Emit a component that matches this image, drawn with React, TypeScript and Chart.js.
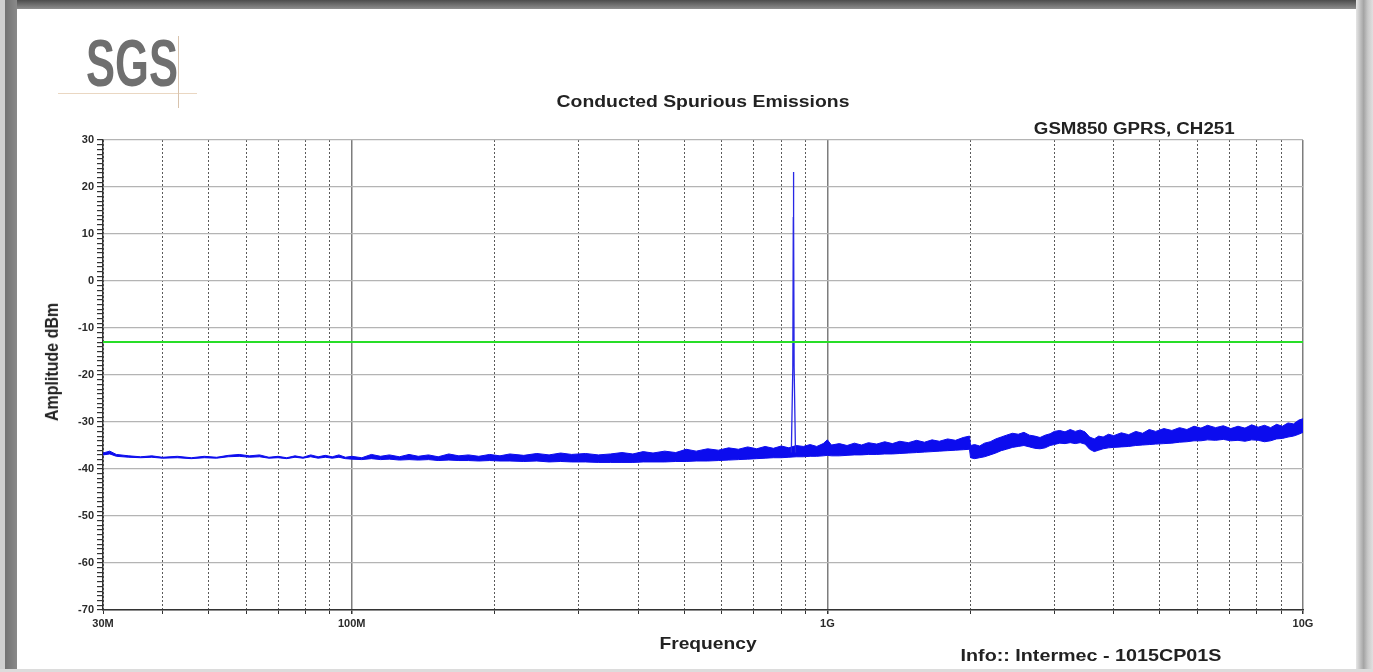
import React, { useEffect, useRef } from 'react';
import { Chart, registerables } from 'chart.js';

Chart.register(...registerables);

// Frequencies in MHz
const freqMHz = [
  30, 31, 32, 34, 36, 38, 40, 43, 46, 49, 52, 55, 58, 61, 64, 67, 70, 73, 76, 79, 82, 85, 88, 91, 94, 97,
  100, 105, 110, 115, 120, 126, 132, 138, 145, 152, 160, 168, 176, 185, 195, 205, 215, 230, 245, 260, 275, 290,
  310, 330, 350, 370, 390, 410, 430, 455, 480, 505, 530, 560, 590, 620, 650, 680, 710, 740, 770, 800, 830,
  860, 890, 920, 950, 980, 1000, 1020, 1060, 1100, 1140, 1180, 1220, 1270, 1320, 1370, 1420, 1480, 1540,
  1600, 1660, 1720, 1790, 1860, 1930, 1990, 2000, 2040, 2090, 2140, 2200, 2260, 2320, 2380, 2450, 2520,
  2590, 2660, 2730, 2800, 2870, 2940, 3000, 3080, 3160, 3240, 3320, 3400, 3480, 3560, 3640, 3720, 3800,
  3900, 4000, 4150, 4300, 4450, 4600, 4750, 4900, 5100, 5300, 5500, 5700, 5900, 6100, 6300, 6550, 6800,
  7050, 7300, 7550, 7800, 8050, 8300, 8550, 8800, 9050, 9300, 9550, 9800, 10000,
];

// Upper edge of the measured noise trace (dBm)
const upperDbm = [
  -36.6, -36.2, -36.9, -37.2, -37.4, -37.2, -37.5, -37.3, -37.6, -37.3, -37.5, -37.1, -36.9, -37.2, -37.0, -37.5,
  -37.3, -37.6, -37.2, -37.5, -37.0, -37.4, -37.1, -37.4, -37.0, -37.5,
  -37.3, -37.6, -36.9, -37.3, -37.0, -37.4, -36.9, -37.3, -37.0, -37.4, -36.8, -37.2, -37.0, -37.3, -36.9,
  -37.2, -36.8, -37.1, -36.7, -37.0, -36.6, -36.9,
  -36.7, -37.0, -36.8, -36.5, -36.8, -36.3, -36.6, -36.2, -36.5, -35.8, -36.2, -35.7, -36.0, -35.5, -35.8,
  -35.3, -35.7, -35.2, -35.6, -35.1, -35.5,
  -35.0, -35.2, -34.8, -35.2, -34.6, -33.8, -34.9, -34.6, -35.0, -34.5, -34.9, -34.4, -34.7, -34.2, -34.6,
  -34.1, -34.4, -33.9,
  -34.3, -33.8, -34.1, -33.6, -33.9, -33.3, -33.0, -35.0, -34.8, -35.1, -34.5, -34.2, -33.6, -33.2, -32.8,
  -32.4, -32.6,
  -32.2, -32.8, -33.0, -33.3, -32.8, -32.5, -32.0, -31.8, -32.1, -31.6, -32.0, -31.7, -32.1, -33.2, -33.6,
  -33.0, -33.2,
  -32.6, -32.9, -32.3, -32.7, -32.0, -32.4, -31.6, -32.0, -31.4, -31.8, -31.2, -31.6, -30.9, -31.3, -30.7,
  -31.2, -30.8,
  -31.4, -30.9, -31.3, -30.6, -31.1, -30.7, -31.2, -30.5, -30.9, -30.2, -30.4, -29.6, -29.3,
];

// Lower edge of the measured noise trace (dBm)
const lowerDbm = [
  -37.0, -36.8, -37.3, -37.5, -37.6, -37.5, -37.7, -37.6, -37.8, -37.6, -37.7, -37.4, -37.3, -37.5, -37.4, -37.7,
  -37.6, -37.8, -37.5, -37.7, -37.4, -37.7, -37.5, -37.7, -37.5, -37.8,
  -37.9, -38.0, -37.8, -38.0, -37.9, -38.1, -38.0, -38.1, -38.0, -38.2, -38.1, -38.2, -38.2, -38.3, -38.2,
  -38.3, -38.3, -38.4, -38.3, -38.5, -38.4, -38.5,
  -38.5, -38.6, -38.6, -38.6, -38.6, -38.5, -38.5, -38.5, -38.4, -38.4, -38.3, -38.3, -38.2, -38.1, -38.0,
  -37.9, -37.8, -37.7, -37.6, -37.6, -37.5,
  -37.4, -37.4, -37.3, -37.3, -37.2, -37.1, -37.2, -37.2, -37.1, -37.0, -37.0, -36.9, -36.9, -36.8, -36.8,
  -36.7, -36.6, -36.5,
  -36.4, -36.3, -36.2, -36.1, -36.0, -35.9, -35.8, -37.6, -37.8, -37.6, -37.4, -37.0, -36.6, -36.1, -35.8,
  -35.4, -35.2,
  -35.0, -35.3, -35.6, -35.7, -35.5, -35.0, -34.8, -34.5, -34.6, -34.4, -34.6, -34.4, -34.7, -35.8, -36.3,
  -36.0, -35.7,
  -35.5, -35.4, -35.3, -35.2, -35.0, -34.9, -34.8, -34.7, -34.6, -34.5, -34.3, -34.2, -34.0, -34.0, -33.8,
  -33.9, -33.7,
  -34.0, -33.9, -34.1, -33.8, -33.9, -34.2, -34.0, -33.6, -33.5, -33.2, -33.0, -32.6, -32.2,
];

// Carrier peak (CH251, 848.8 MHz)
const peakFreqMHz = [840, 846, 848, 848.8, 849.6, 851.5, 857];
const peakDbm = [-36.5, -18.5, 13.5, 23.2, 13.5, -18.5, -36.5];

// Limit line
const limitFreqMHz = [30, 10000];
const limitDbm = [-13, -13];

// Axes
const xTickMHz = [
  30, 40, 50, 60, 70, 80, 90, 100, 200, 300, 400, 500, 600, 700, 800, 900,
  1000, 2000, 3000, 4000, 5000, 6000, 7000, 8000, 9000, 10000,
];
const xDecadeMHz = [100, 1000, 10000];
const xTickLabels: Record<number, string> = { 30: '30M', 100: '100M', 1000: '1G', 10000: '10G' };
const yMajorTicks = [-70, -60, -50, -40, -30, -20, -10, 0, 10, 20, 30];

const FONT = '"Liberation Sans", Arial, sans-serif';

export default function App() {
  const canvasRef = useRef<HTMLCanvasElement | null>(null);

  useEffect(() => {
    const canvas = canvasRef.current;
    if (!canvas) return;
    const yTicks: number[] = [];
    for (let v = yMajorTicks[0]; v <= yMajorTicks[yMajorTicks.length - 1]; v += 1) yTicks.push(v);
    const isDecade = (v: number) => xDecadeMHz.indexOf(v) >= 0;
    const blue = 'rgb(12, 12, 238)';

    const chart = new Chart(canvas, {
      type: 'line',
      data: {
        datasets: [
          {
            label: 'Limit',
            data: limitFreqMHz.map((x, i) => ({ x, y: limitDbm[i] })),
            borderColor: 'rgb(40, 222, 40)',
            borderWidth: 2,
            pointRadius: 0,
            fill: false,
          },
          {
            label: 'Peak',
            data: peakFreqMHz.map((x, i) => ({ x, y: peakDbm[i] })),
            borderColor: 'rgb(40, 40, 230)',
            borderWidth: 1.3,
            pointRadius: 0,
            fill: false,
          },
          {
            label: 'Upper',
            data: freqMHz.map((x, i) => ({ x, y: upperDbm[i] })),
            borderColor: blue,
            backgroundColor: blue,
            borderWidth: 1,
            pointRadius: 0,
            fill: '+1',
          },
          {
            label: 'Lower',
            data: freqMHz.map((x, i) => ({ x, y: lowerDbm[i] })),
            borderColor: blue,
            borderWidth: 1,
            pointRadius: 0,
            fill: false,
          },
        ],
      },
      options: {
        animation: false,
        responsive: false,
        events: [],
        layout: { padding: { left: 44, right: 70, top: 140, bottom: 32 } },
        plugins: { legend: { display: false }, tooltip: { enabled: false }, title: { display: false } },
        scales: {
          x: {
            type: 'logarithmic',
            min: 30,
            max: 10000,
            afterBuildTicks: (s: any) => {
              s.ticks = xTickMHz.map((v) => ({ value: v }));
            },
            afterFit: (s: any) => {
              s.height = 30;
            },
            ticks: {
              autoSkip: false,
              maxRotation: 0,
              minRotation: 0,
              padding: 3,
              color: '#2a2a2a',
              font: { family: FONT, weight: 'bold', size: 11 },
              callback: (v: any) => xTickLabels[Number(v)] ?? '',
            },
            grid: {
              color: (ctx: any) => (ctx.tick && isDecade(ctx.tick.value) ? '#7d7d7d' : '#5a5a5a'),
              lineWidth: (ctx: any) => (ctx.tick && isDecade(ctx.tick.value) ? 1.5 : 1),
              tickLength: 4,
              tickColor: '#333',
            },
            border: {
              display: true,
              color: '#333',
              width: 1.5,
              dash: (ctx: any) => (ctx.tick && !isDecade(ctx.tick.value) ? [2, 2] : []),
            },
          },
          y: {
            type: 'linear',
            min: -70,
            max: 30,
            afterBuildTicks: (s: any) => {
              s.ticks = yTicks.map((v) => ({ value: v }));
            },
            afterFit: (s: any) => {
              s.width = 59;
            },
            ticks: {
              autoSkip: false,
              padding: 3,
              color: '#2a2a2a',
              font: { family: FONT, weight: 'bold', size: 11 },
              callback: (v: any) => (yMajorTicks.indexOf(Number(v)) >= 0 ? String(v) : ''),
            },
            grid: {
              color: (ctx: any) =>
                ctx.tick && yMajorTicks.indexOf(ctx.tick.value) >= 0 ? '#b4b4b4' : 'rgba(0,0,0,0)',
              lineWidth: 1.2,
              tickLength: 6,
              tickColor: '#333',
            },
            border: { display: true, color: '#333', width: 1.5 },
          },
        },
      },
    } as any);

    return () => chart.destroy();
  }, []);

  const textBase: React.CSSProperties = {
    position: 'absolute',
    fontFamily: FONT,
    fontWeight: 'bold',
    color: '#222',
    whiteSpace: 'nowrap',
  };

  return (
    <div style={{ position: 'absolute', left: 0, top: 0, width: 1373, height: 672, background: '#fff', overflow: 'hidden' }}>
      <canvas ref={canvasRef} width={1373} height={672} style={{ position: 'absolute', left: 0, top: 0, width: 1373, height: 672 }} />

      {/* window frame */}
      <div style={{ position: 'absolute', left: 0, top: 0, width: 1373, height: 9, background: 'linear-gradient(#4c4c4c, #8e8e8e)' }} />
      <div style={{ position: 'absolute', left: 0, top: 0, width: 5, height: 672, background: '#cfcfcf' }} />
      <div style={{ position: 'absolute', left: 5, top: 0, width: 12, height: 672, background: 'linear-gradient(90deg, #727272, #8a8a8a)' }} />
      <div style={{ position: 'absolute', left: 1356, top: 0, width: 17, height: 672, background: 'linear-gradient(90deg, #e6e6e6, #a4a4a4 45%, #c9c9c9 70%, #e0e0e0)' }} />
      <div style={{ position: 'absolute', left: 0, top: 669, width: 1373, height: 3, background: '#dcdcdc' }} />

      {/* SGS logo */}
      <div style={{ position: 'absolute', left: 58, top: 93, width: 139, height: 1, background: '#ead7c2' }} />
      <div style={{ position: 'absolute', left: 178, top: 36, width: 1, height: 72, background: '#d8c3ad' }} />
      <div
        style={{
          ...textBase,
          left: 86,
          top: 30,
          fontSize: 66,
          lineHeight: '66px',
          color: '#6f6f6f',
          transform: 'scaleX(0.66)',
          transformOrigin: 'left center',
        }}
      >
        SGS
      </div>

      {/* titles */}
      <div style={{ ...textBase, left: 703, top: 92.5, fontSize: 17, lineHeight: '17px', transform: 'translateX(-50%) scaleX(1.14)' }}>
        Conducted Spurious Emissions
      </div>
      <div style={{ ...textBase, right: 138, top: 120.5, fontSize: 16, lineHeight: '16px', transform: 'scaleX(1.17)', transformOrigin: 'right center' }}>
        GSM850 GPRS, CH251
      </div>
      <div style={{ ...textBase, left: 708, top: 635, fontSize: 17, lineHeight: '17px', transform: 'translateX(-50%) scaleX(1.13)' }}>
        Frequency
      </div>
      <div style={{ ...textBase, left: 1091, top: 646.5, fontSize: 17, lineHeight: '17px', transform: 'translateX(-50%) scaleX(1.16)' }}>
        Info:: Intermec - 1015CP01S
      </div>
      <div
        style={{
          ...textBase,
          left: 52,
          top: 362,
          fontSize: 16,
          lineHeight: '16px',
          transform: 'translate(-50%, -50%) rotate(-90deg) scaleY(1.12)',
        }}
      >
        Amplitude dBm
      </div>
    </div>
  );
}
